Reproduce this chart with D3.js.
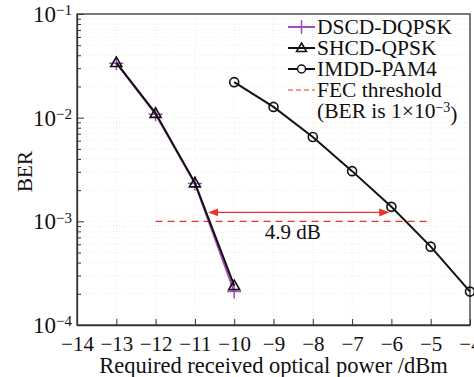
<!DOCTYPE html>
<html>
<head>
<meta charset="utf-8">
<script src="https://cdn.jsdelivr.net/npm/d3@7"></script>
<style>
  body { margin: 0; background: #fff; }
  svg text { font-family: "Liberation Serif", "DejaVu Serif", serif; fill: #111; }
</style>
</head>
<body>
<div class="chartWrapper"></div>
<script>
// data
var powerTicks = [-14, -13, -12, -11, -10, -9, -8, -7, -6, -5, -4];
var berDecades = [-4, -3, -2, -1];

var dscdX = [-13, -12, -11, -10];
var dscdBer = [3.35e-2, 1.08e-2, 2.32e-3, 2.1e-4];
var shcdX = [-13, -12, -11, -10];
var shcdBer = [3.4e-2, 1.1e-2, 2.35e-3, 2.4e-4];
var imddX = [-10, -9, -8, -7, -6, -5, -4];
var imddBer = [2.2e-2, 1.27e-2, 6.5e-3, 3.05e-3, 1.38e-3, 5.7e-4, 2.1e-4];

var fecX = [-12, -5];
var fecBer = 1e-3;
var gapX = [-10.63, -6.08];
var gapBer = 1.22e-3;
var gapLabel = "4.9 dB";

var legendNames = ["DSCD-DQPSK", "SHCD-QPSK", "IMDD-PAM4", "FEC threshold"];

var width = 474, height = 377;
var padding = { top: 14, right: 4, bottom: 52, left: 77 };

var svg = d3.select(".chartWrapper")
    .append("svg")
    .attr("width", width)
    .attr("height", height);

var xScale = d3.scaleLinear()
    .domain([-14, -4])
    .range([padding.left, width - padding.right]);
var yScale = d3.scaleLog()
    .domain([1e-4, 1e-1])
    .range([height - padding.bottom, padding.top]);

var x0 = xScale.range()[0], x1 = xScale.range()[1];
var yB = yScale.range()[0], yT = yScale.range()[1];

// faint grid
var minors = [];
for (var e = -4; e < -1; e++) {
    for (var m = 1; m < 10; m++) minors.push(m * Math.pow(10, e));
}
svg.append("g").selectAll("line")
    .data(minors.slice(1))
    .enter().append("line")
    .attr("x1", x0).attr("x2", x1)
    .attr("y1", function (d) { return yScale(d); })
    .attr("y2", function (d) { return yScale(d); })
    .attr("stroke", "#ddd")
    .attr("stroke-width", 0.6)
    .attr("stroke-dasharray", "1,2");
svg.append("g").selectAll("line")
    .data(powerTicks.slice(1, -1))
    .enter().append("line")
    .attr("x1", function (d) { return xScale(d); })
    .attr("x2", function (d) { return xScale(d); })
    .attr("y1", yB).attr("y2", yT)
    .attr("stroke", "#ddd")
    .attr("stroke-width", 0.6)
    .attr("stroke-dasharray", "1,2");

// axes
var xAxis = d3.axisBottom(xScale)
    .tickValues(powerTicks)
    .tickSizeInner(-6)
    .tickSizeOuter(0)
    .tickPadding(10)
    .tickFormat(function (d) { return String(d).replace("-", "\u2212"); });
var gx = svg.append("g")
    .attr("transform", "translate(0," + yB + ")")
    .call(xAxis);
gx.selectAll("text").style("font-size", "21px").attr("dy", "0.75em");

var yAxis = d3.axisLeft(yScale)
    .tickValues(minors.concat([1e-1]))
    .tickSizeInner(-4)
    .tickSizeOuter(0)
    .tickFormat("");
var gy = svg.append("g")
    .attr("transform", "translate(" + x0 + ",0)")
    .call(yAxis);
gy.selectAll(".tick line")
    .attr("x2", function (d) {
        var lg = Math.log10(d);
        return Math.abs(lg - Math.round(lg)) < 1e-6 ? 7 : 4;
    });

svg.selectAll(".domain").attr("stroke", "#333").attr("stroke-width", 1.3);
svg.selectAll(".tick line").attr("stroke", "#333");

// frame
svg.append("rect")
    .attr("x", x0).attr("y", yT)
    .attr("width", x1 - x0).attr("height", yB - yT)
    .attr("fill", "none")
    .attr("stroke", "#333")
    .attr("stroke-width", 1.3);

// y tick labels 10^n
var yLab = svg.append("g").selectAll("text")
    .data(berDecades)
    .enter().append("text")
    .attr("x", x0 - 5)
    .attr("y", function (d) { return yScale(Math.pow(10, d)) + 8; })
    .attr("text-anchor", "end")
    .style("font-size", "23px");
yLab.append("tspan").text("10");
yLab.append("tspan")
    .attr("dy", "-0.45em")
    .style("font-size", "15px")
    .text(function (d) { return "\u2212" + Math.abs(d); });

// axis titles
svg.append("text")
    .attr("x", (x0 + x1) / 2)
    .attr("y", height - 4)
    .attr("text-anchor", "middle")
    .style("font-size", "22.5px")
    .text("Required received optical power /dBm");
svg.append("text")
    .attr("transform", "translate(32," + ((yT + yB) / 2 + 2) + ") rotate(-90)")
    .attr("text-anchor", "middle")
    .style("font-size", "21px")
    .text("BER");

// FEC threshold
svg.append("line")
    .attr("x1", xScale(fecX[0])).attr("x2", xScale(fecX[1]))
    .attr("y1", yScale(fecBer)).attr("y2", yScale(fecBer))
    .attr("stroke", "#f0302a")
    .attr("stroke-width", 1.2)
    .attr("stroke-dasharray", "7,5");

// curves
var lineGen = d3.line()
    .x(function (d) { return xScale(d[0]); })
    .y(function (d) { return yScale(d[1]); });
function pairs(xs, ys) { return xs.map(function (x, i) { return [x, ys[i]]; }); }

var dscd = pairs(dscdX, dscdBer), shcd = pairs(shcdX, shcdBer), imdd = pairs(imddX, imddBer);

svg.append("path").attr("d", lineGen(dscd))
    .attr("fill", "none").attr("stroke", "#a64bbf").attr("stroke-width", 2);
svg.append("g").selectAll("path")
    .data(dscd).enter().append("path")
    .attr("transform", function (d) { return "translate(" + xScale(d[0]) + "," + yScale(d[1]) + ")"; })
    .attr("d", "M-7,0H7M0,-7V7")
    .attr("stroke", "#a64bbf").attr("stroke-width", 1.5);

svg.append("path").attr("d", lineGen(shcd))
    .attr("fill", "none").attr("stroke", "#111").attr("stroke-width", 2);
svg.append("g").selectAll("path")
    .data(shcd).enter().append("path")
    .attr("transform", function (d) { return "translate(" + xScale(d[0]) + "," + yScale(d[1]) + ")"; })
    .attr("d", "M0,-5.5L5.5,4L-5.5,4Z")
    .attr("fill", "none").attr("stroke", "#111").attr("stroke-width", 1.6);

svg.append("path").attr("d", lineGen(imdd))
    .attr("fill", "none").attr("stroke", "#111").attr("stroke-width", 2);
svg.append("g").selectAll("circle")
    .data(imdd).enter().append("circle")
    .attr("cx", function (d) { return xScale(d[0]); })
    .attr("cy", function (d) { return yScale(d[1]); })
    .attr("r", 4.5)
    .attr("fill", "none").attr("stroke", "#111").attr("stroke-width", 1.6);

// power gap arrow
var defs = svg.append("defs");
["arrowEnd", "arrowStart"].forEach(function (id, i) {
    defs.append("marker")
        .attr("id", id)
        .attr("viewBox", "0 -5 10 10")
        .attr("refX", 9).attr("refY", 0)
        .attr("markerWidth", 10).attr("markerHeight", 10)
        .attr("markerUnits", "userSpaceOnUse")
        .attr("orient", i === 0 ? "auto" : "auto-start-reverse")
        .append("path")
        .attr("d", "M0,-4L10,0L0,4Z")
        .attr("fill", "#f0302a");
});
var gy0 = yScale(gapBer);
svg.append("line")
    .attr("x1", xScale(gapX[0])).attr("x2", xScale(gapX[1]))
    .attr("y1", gy0).attr("y2", gy0)
    .attr("stroke", "#f0302a")
    .attr("stroke-width", 1.3)
    .attr("marker-start", "url(#arrowStart)")
    .attr("marker-end", "url(#arrowEnd)");
svg.append("text")
    .attr("x", xScale((gapX[0] + gapX[1]) / 2) - 6)
    .attr("y", gy0 + 27)
    .attr("text-anchor", "middle")
    .style("font-size", "21px")
    .text(gapLabel);

// legend
var lgX = 288, lgW = 27, lgRows = [27, 48, 69, 90];
var lg = svg.append("g");
legendNames.forEach(function (name, i) {
    var cy = lgRows[i];
    var stroke = i === 0 ? "#a64bbf" : (i === 3 ? "#f0302a" : "#111");
    var ln = lg.append("line")
        .attr("x1", lgX).attr("x2", lgX + lgW)
        .attr("y1", cy).attr("y2", cy)
        .attr("stroke", stroke)
        .attr("stroke-width", i === 3 ? 1.2 : 2);
    if (i === 3) ln.attr("stroke-dasharray", "5,3");
    var mx = lgX + lgW / 2;
    if (i === 0) {
        lg.append("path").attr("d", "M" + mx + "," + (cy - 7) + "V" + (cy + 7))
            .attr("stroke", stroke).attr("stroke-width", 1.5);
    } else if (i === 1) {
        lg.append("path")
            .attr("transform", "translate(" + mx + "," + cy + ")")
            .attr("d", "M0,-5L5,3.5L-5,3.5Z")
            .attr("fill", "none").attr("stroke", stroke).attr("stroke-width", 1.5);
    } else if (i === 2) {
        lg.append("circle").attr("cx", mx).attr("cy", cy).attr("r", 4)
            .attr("fill", "#fff").attr("stroke", stroke).attr("stroke-width", 1.5);
    }
    lg.append("text")
        .attr("x", lgX + lgW + 2)
        .attr("y", cy + 7)
        .style("font-size", "21.5px")
        .text(name);
});
var lgLast = lg.append("text")
    .attr("x", lgX + lgW + 2)
    .attr("y", 118)
    .style("font-size", "21.5px");
lgLast.append("tspan").text("(BER is 1\u00d710");
lgLast.append("tspan").attr("dy", "-0.45em").style("font-size", "14px").text("\u22123");
lgLast.append("tspan").attr("dy", "0.45em").text(")");
</script>
</body>
</html>
